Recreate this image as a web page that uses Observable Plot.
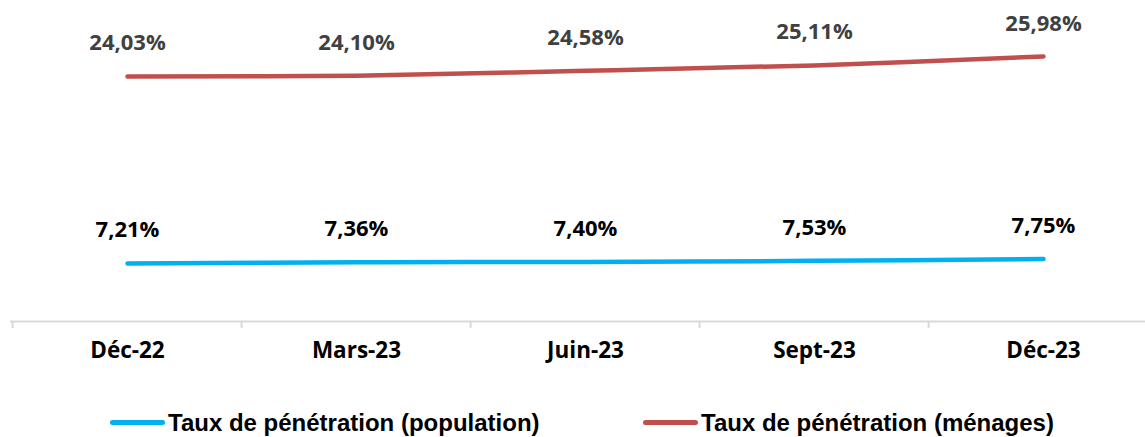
<!DOCTYPE html>
<html>
<head>
<meta charset="utf-8">
<script src="https://cdn.jsdelivr.net/npm/d3@7"></script>
<script src="https://cdn.jsdelivr.net/npm/@observablehq/plot@0.6"></script>
<style>
  html, body { margin: 0; padding: 0; background: #fff; }
  #wrap { position: relative; width: 1145px; height: 437px; overflow: hidden; }
  #legend { position: absolute; top: 408px; left: 0; width: 1145px; height: 29px;
    font-family: "Liberation Sans", Arial, sans-serif; font-weight: bold; font-size: 24px; color: #000; }
  .item { position: absolute; top: 0; display: flex; align-items: center; height: 29px; white-space: nowrap; }
  .sw { display: inline-block; width: 55px; height: 5px; border-radius: 3px; margin-right: 3px; }
</style>
</head>
<body>
<div id="wrap">
  <div id="chart"></div>
  <div id="legend"></div>
</div>
<script>
const categories = ["Déc-22", "Mars-23", "Juin-23", "Sept-23", "Déc-23"];
const populationValues = [7.21, 7.36, 7.40, 7.53, 7.75];
const menagesValues = [24.03, 24.10, 24.58, 25.11, 25.98];
const valueLabelsPopulation = ["7,21%", "7,36%", "7,40%", "7,53%", "7,75%"];
const valueLabelsMenages = ["24,03%", "24,10%", "24,58%", "25,11%", "25,98%"];
const seriesNames = ["Taux de pénétration (population)", "Taux de pénétration (ménages)"];
const primaryAxisMax = 30;   // ménages axis
const secondaryAxisMax = 38; // population axis (secondary)

const colors = { pop: "#00B0F0", men: "#C0504D" };
const k = primaryAxisMax / secondaryAxisMax;

const pop = categories.map((c, i) => ({ cat: c, v: populationValues[i], y: populationValues[i] * k, label: valueLabelsPopulation[i] }));
const men = categories.map((c, i) => ({ cat: c, v: menagesValues[i], y: menagesValues[i], label: valueLabelsMenages[i] }));

const width = 1145, height = 385;
const step = (1159 - 10) / categories.length;

const chart = Plot.plot({
  width, height,
  marginLeft: 10, marginRight: 0, marginTop: 15, marginBottom: 64,
  style: { fontFamily: "'Open Sans', sans-serif", background: "#fff" },
  x: { type: "point", domain: categories, range: [10, 1159], padding: 0.5, axis: null, label: null },
  y: { domain: [0, primaryAxisMax], axis: null, label: null },
  marks: [
    Plot.ruleY([0], { stroke: "#d9d9d9", strokeWidth: 2 }),
    Plot.ruleX(categories, { x: d => d, dx: -step / 2, y1: 0, y2: -0.7, stroke: "#d9d9d9", strokeWidth: 2 }),
    Plot.axisX({ tickSize: 0, tickPadding: 21, fontSize: 22.5, fontWeight: "bold", fill: "#000", textAnchor: "middle", label: null }),
    Plot.line(pop, { x: "cat", y: "y", stroke: colors.pop, strokeWidth: 4.5, curve: "catmull-rom", strokeLinecap: "round" }),
    Plot.line(men, { x: "cat", y: "y", stroke: colors.men, strokeWidth: 4.5, curve: "catmull-rom", strokeLinecap: "round" }),
    Plot.text(pop, { x: "cat", y: "y", text: "label", dy: -33, fontSize: 22, fontWeight: "bold", fill: "#000" }),
    Plot.text(men, { x: "cat", y: "y", text: "label", dy: -33, fontSize: 22, fontWeight: "bold", fill: "#404040" })
  ]
});
document.getElementById("chart").appendChild(chart);

const legend = document.getElementById("legend");
const items = [
  { name: seriesNames[0], color: colors.pop, left: 110 },
  { name: seriesNames[1], color: colors.men, left: 643 }
];
for (const it of items) {
  const d = document.createElement("div");
  d.className = "item";
  d.style.left = it.left + "px";
  const sw = document.createElement("span");
  sw.className = "sw";
  sw.style.background = it.color;
  const t = document.createElement("span");
  t.textContent = it.name;
  d.appendChild(sw); d.appendChild(t);
  legend.appendChild(d);
}
</script>
</body>
</html>
